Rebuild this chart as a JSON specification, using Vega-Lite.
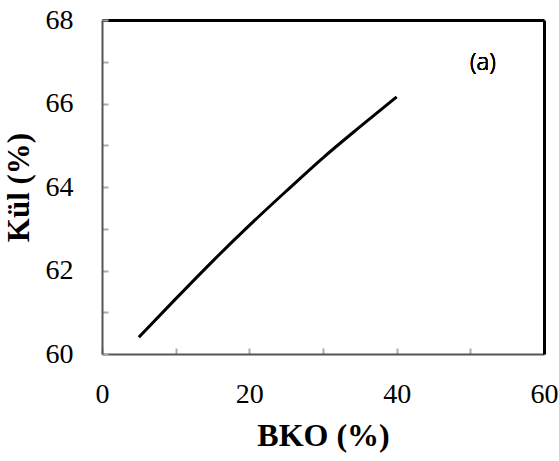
{
  "$schema": "https://vega.github.io/schema/vega-lite/v6.json",
  "width": 442,
  "height": 334,
  "autosize": "none",
  "padding": {"left": 102, "top": 20, "right": 15, "bottom": 107},
  "background": "white",
  "config": {"view": {"stroke": null}, "font": "Liberation Serif"},
  "data": {"values": [
    {"BKO": 5, "Kul": 60.4},
    {"BKO": 10, "Kul": 61.32},
    {"BKO": 15, "Kul": 62.22},
    {"BKO": 20, "Kul": 63.08},
    {"BKO": 25, "Kul": 63.9},
    {"BKO": 30, "Kul": 64.7},
    {"BKO": 35, "Kul": 65.44},
    {"BKO": 40, "Kul": 66.16}
  ]},
  "resolve": {"axis": {"x": "independent", "y": "independent"}},
  "layer": [
    {
      "mark": {"type": "line", "color": "black", "strokeWidth": 3, "interpolate": "monotone"},
      "encoding": {
        "x": {"field": "BKO", "type": "quantitative",
          "scale": {"domain": [0, 60], "nice": false},
          "axis": {"orient": "bottom", "title": "BKO (%)", "values": [0, 10, 20, 30, 40, 50, 60],
            "labelExpr": "datum.value % 20 === 0 ? datum.label : ''", "labelFlush": false,
            "grid": false, "domainColor": "#555", "domainWidth": 2, "tickColor": "#aaa", "tickWidth": 2, "tickSize": -6,
            "labelFont": "Liberation Serif", "labelFontSize": 28, "labelColor": "black", "labelPadding": 32,
            "titleFont": "Liberation Serif", "titleFontSize": 32, "titleFontWeight": "bold", "titleColor": "black", "titlePadding": 12}},
        "y": {"field": "Kul", "type": "quantitative",
          "scale": {"domain": [60, 68], "nice": false, "zero": false},
          "axis": {"orient": "left", "title": "Kül (%)", "values": [60, 61, 62, 63, 64, 65, 66, 67, 68],
            "labelExpr": "datum.value % 2 === 0 ? datum.label : ''", "labelFlush": false,
            "grid": false, "domainColor": "#555", "domainWidth": 2, "tickColor": "#aaa", "tickWidth": 2, "tickSize": -6,
            "labelFont": "Liberation Serif", "labelFontSize": 28, "labelColor": "black", "labelPadding": 35,
            "titleFont": "Liberation Serif", "titleFontSize": 31, "titleFontWeight": "bold", "titleColor": "black", "titlePadding": 10}}
      }
    },
    {
      "mark": {"type": "line", "opacity": 0},
      "encoding": {
        "x": {"field": "BKO", "type": "quantitative",
          "axis": {"orient": "top", "title": null, "labels": false, "ticks": false, "grid": false, "domainColor": "black", "domainWidth": 3}},
        "y": {"field": "Kul", "type": "quantitative",
          "axis": {"orient": "right", "title": null, "labels": false, "ticks": false, "grid": false, "domainColor": "black", "domainWidth": 3}}
      }
    },
    {
      "mark": {"type": "text", "text": "(a)", "font": "Open Sans", "fontWeight": 300, "fontSize": 24, "color": "black", "align": "center", "baseline": "middle"},
      "encoding": {
        "x": {"datum": 51.7, "type": "quantitative", "axis": null},
        "y": {"datum": 66.97, "type": "quantitative", "axis": null}
      }
    }
  ]
}
